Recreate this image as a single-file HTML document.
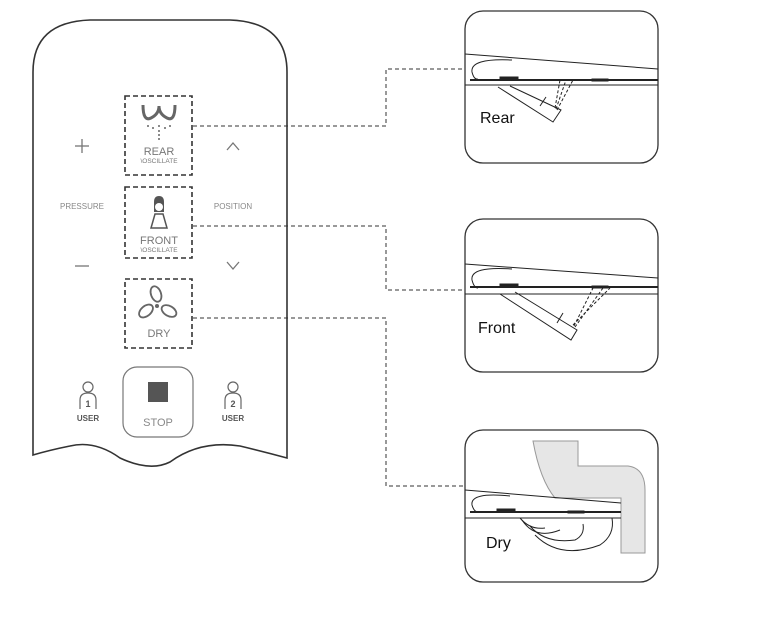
<!DOCTYPE html>
<html><head><style>
html,body{margin:0;padding:0;background:#fff}
svg{display:block}
text{font-family:"Liberation Sans",sans-serif}
</style></head><body>
<svg width="765" height="621" viewBox="0 0 765 621" xmlns="http://www.w3.org/2000/svg">
<!-- remote -->
<path d="M33,455 L33,72 Q33,22 90,20 L230,20 Q287,22 287,72 L287,458 Q265,452 240,446 Q200,440 170,462 Q150,472 120,458 Q95,440 70,446 Q50,450 33,455 Z" fill="#fff" stroke="#333" stroke-width="1.6"/>
<!-- dashed boxes -->
<g fill="none" stroke="#333" stroke-width="1.6" stroke-dasharray="5,3">
<rect x="125" y="96" width="67" height="79"/>
<rect x="125" y="187" width="67" height="71"/>
<rect x="125" y="279" width="67" height="69"/>
</g>
<!-- connectors -->
<g fill="none" stroke="#333" stroke-width="1" stroke-dasharray="4,3">
<polyline points="193,126 386,126 386,69 466,69"/>
<polyline points="193,226 386,226 386,290 466,290"/>
<polyline points="193,318 386,318 386,486 466,486"/>
</g>
<!-- rear icon -->
<path d="M143,105 Q143,122 151,118 Q159,114 159,106 Q159,114 167,118 Q175,122 175,105" fill="none" stroke="#666" stroke-width="3"/>
<g fill="#666"><circle cx="148" cy="126" r="1"/><circle cx="153" cy="128" r="1"/><circle cx="159" cy="126" r="1"/><circle cx="165" cy="128" r="1"/><circle cx="170" cy="126" r="1"/><circle cx="159" cy="131" r="1"/><circle cx="159" cy="135" r="1"/><circle cx="159" cy="139" r="1"/></g>
<text x="159" y="155" font-size="11" fill="#777" text-anchor="middle">REAR</text>
<text x="159" y="163" font-size="6.5" fill="#777" text-anchor="middle">\OSCILLATE</text>
<!-- front icon -->
<path d="M154,212 L154,202 Q154,196 159,196 Q164,196 164,202 L164,212 Z" fill="#555"/>
<circle cx="159" cy="207" r="4" fill="#fff"/>
<path d="M155,214 L163,214 L167,228 L151,228 Z" fill="none" stroke="#555" stroke-width="1.5"/>
<text x="159" y="244" font-size="11" fill="#777" text-anchor="middle">FRONT</text>
<text x="159" y="252" font-size="6.5" fill="#777" text-anchor="middle">\OSCILLATE</text>
<!-- dry icon -->
<g fill="none" stroke="#666" stroke-width="1.8">
<ellipse cx="156" cy="294" rx="5" ry="8" transform="rotate(-20 156 294)"/>
<ellipse cx="146" cy="311" rx="5" ry="8" transform="rotate(50 146 311)"/>
<ellipse cx="169" cy="311" rx="5" ry="8" transform="rotate(-60 169 311)"/>
</g>
<circle cx="157" cy="306" r="2" fill="#666"/>
<text x="159" y="337" font-size="11" fill="#777" text-anchor="middle">DRY</text>
<!-- side controls -->
<g stroke="#777" stroke-width="1.3" fill="none">
<line x1="75" y1="146" x2="89" y2="146"/><line x1="82" y1="139" x2="82" y2="153"/>
<line x1="75" y1="266" x2="89" y2="266"/>
<polyline points="227,150 233,143 239,150"/>
<polyline points="227,262 233,269 239,262"/>
</g>
<text x="82" y="209" font-size="8" fill="#888" text-anchor="middle">PRESSURE</text>
<text x="233" y="209" font-size="8" fill="#888" text-anchor="middle">POSITION</text>
<!-- stop -->
<rect x="123" y="367" width="70" height="70" rx="14" fill="none" stroke="#777" stroke-width="1.2"/>
<rect x="148" y="382" width="20" height="20" fill="#555"/>
<text x="158" y="426" font-size="11" fill="#888" text-anchor="middle">STOP</text>
<!-- users -->
<g fill="none" stroke="#666" stroke-width="1.2">
<circle cx="88" cy="387" r="5"/><path d="M80,409 L80,400 Q80,393 88,393 Q96,393 96,400 L96,409"/>
<circle cx="233" cy="387" r="5"/><path d="M225,409 L225,400 Q225,393 233,393 Q241,393 241,400 L241,409"/>
</g>
<text x="88" y="407" font-size="9" font-weight="bold" fill="#555" text-anchor="middle">1</text>
<text x="233" y="407" font-size="9" font-weight="bold" fill="#555" text-anchor="middle">2</text>
<text x="88" y="421" font-size="8" font-weight="bold" fill="#555" text-anchor="middle">USER</text>
<text x="233" y="421" font-size="8" font-weight="bold" fill="#555" text-anchor="middle">USER</text>

<!-- Rear panel -->
<rect x="465" y="11" width="193" height="152" rx="18" fill="#fff" stroke="#333" stroke-width="1.3"/>
<g stroke="#222" fill="none" stroke-width="1">
<line x1="465" y1="54" x2="658" y2="69"/>
<path d="M512,60 Q470,58 472,72 Q474,80 478,79"/>
<line x1="470" y1="80" x2="658" y2="80" stroke-width="2"/>
<line x1="465" y1="85" x2="658" y2="85"/>
<rect x="500" y="77" width="18" height="3" fill="#222"/>
<rect x="592" y="79" width="16" height="2" fill="#222"/>
<polyline points="498,87 553,122 561,110 510,86"/>
<line x1="540" y1="106" x2="546" y2="97"/>
<g stroke-dasharray="3,2"><line x1="556" y1="109" x2="566" y2="80"/><line x1="557" y1="110" x2="573" y2="80"/><line x1="555" y1="108" x2="560" y2="80"/></g>
</g>
<text x="480" y="123" font-size="16" fill="#111">Rear</text>

<!-- Front panel -->
<rect x="465" y="219" width="193" height="153" rx="18" fill="#fff" stroke="#333" stroke-width="1.3"/>
<g stroke="#222" fill="none" stroke-width="1">
<line x1="465" y1="264" x2="658" y2="278"/>
<path d="M512,269 Q470,266 472,280 Q474,288 478,288"/>
<line x1="470" y1="287" x2="658" y2="287" stroke-width="2"/>
<line x1="465" y1="294" x2="658" y2="294"/>
<rect x="500" y="284" width="18" height="3" fill="#222"/>
<rect x="592" y="286" width="16" height="2" fill="#222"/>
<polyline points="500,294 571,340 577,330 515,292"/>
<line x1="557" y1="323" x2="563" y2="313"/>
<g stroke-dasharray="3,2"><line x1="574" y1="326" x2="593" y2="288"/><line x1="575" y1="327" x2="603" y2="288"/><line x1="573" y1="325" x2="610" y2="288"/></g>
</g>
<text x="478" y="333" font-size="16" fill="#111">Front</text>

<!-- Dry panel -->
<rect x="465" y="430" width="193" height="152" rx="18" fill="#fff" stroke="#333" stroke-width="1.3"/>
<path d="M533,441 L578,441 L578,466 L628,466 Q645,468 645,490 L645,553 L621,553 L621,498 L555,498 Q540,480 533,441 Z" fill="#e6e6e6" stroke="#999" stroke-width="1"/>
<g stroke="#222" fill="none" stroke-width="1">
<line x1="465" y1="490" x2="621" y2="503"/>
<path d="M510,496 Q470,492 472,505 Q474,512 478,512"/>
<line x1="470" y1="512" x2="621" y2="512" stroke-width="2"/>
<line x1="465" y1="518" x2="621" y2="518"/>
<rect x="497" y="509" width="18" height="3" fill="#222"/>
<rect x="568" y="511" width="16" height="2" fill="#222"/>
<path d="M520,518 Q530,530 545,528"/>
<path d="M522,520 Q535,540 560,530"/>
<path d="M530,526 Q545,544 575,540 Q585,535 583,524"/>
<path d="M535,535 Q560,560 600,545 Q615,535 612,518"/>
</g>
<text x="486" y="548" font-size="16" fill="#111">Dry</text>
</svg>
</body></html>
